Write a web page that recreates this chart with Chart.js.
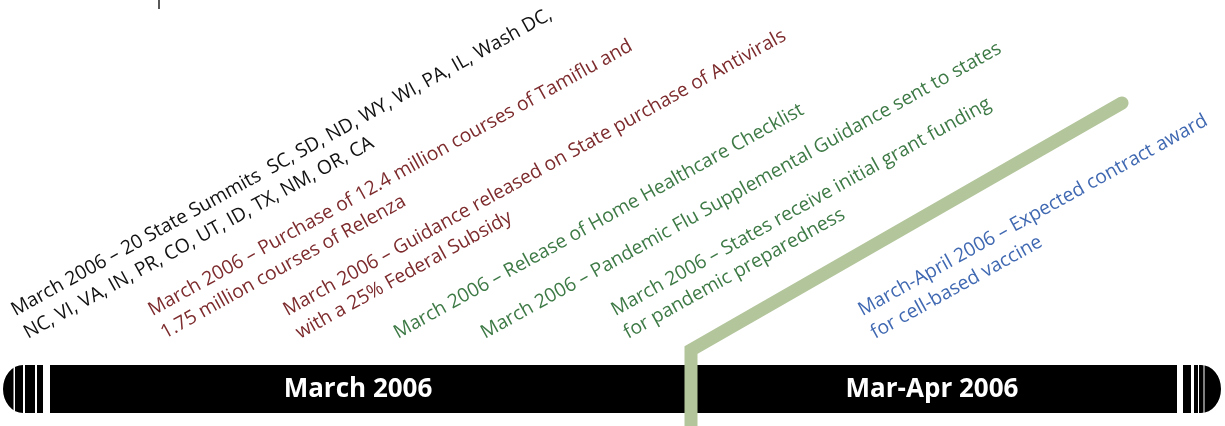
<!DOCTYPE html>
<html>
<head>
<meta charset="utf-8">
<script src="https://cdn.jsdelivr.net/npm/chart.js@4.4.0/dist/chart.umd.min.js"></script>
<style>
  html, body { margin: 0; padding: 0; background: #fff; }
  #wrap { width: 1225px; height: 426px; position: relative; }
</style>
</head>
<body>
<div id="wrap"><canvas id="timeline"></canvas></div>
<script>
// periods shown on the black band (positions along the timeline axis)
const periods = ["March 2006", "Mar-Apr 2006"];
const periodStart = [50, 691];
const periodEnd = [691, 1177];
const periodLabelAt = [358, 932];

// milestones: where each note starts on the timeline, its text and colour
const eventAt = [28, 165, 300, 398, 485, 628, 875];
const eventLines = [
  ["March 2006 – 20 State Summits  SC, SD, ND, WY, WI, PA, IL, Wash DC,",
   "NC, VI, VA, IN, PR, CO, UT, ID, TX, NM, OR, CA"],
  ["March 2006 – Purchase of 12.4 million courses of Tamiflu and",
   "1.75 million courses of Relenza"],
  ["March 2006 – Guidance released on State purchase of Antivirals",
   "with a 25% Federal Subsidy"],
  ["March 2006 – Release of Home Healthcare Checklist"],
  ["March 2006 – Pandemic Flu Supplemental Guidance sent to states"],
  ["March 2006 – States receive initial grant funding",
   "for pandemic preparedness"],
  ["March-April 2006 – Expected contract award",
   "for cell-based vaccine"]
];
const eventColour = ["#111111", "#7d2b2d", "#7d2b2d", "#3e7a46", "#3e7a46", "#3e7a46", "#4069b2"];

// green divider between the two periods, bending up to the right
const dividerX = [691, 691, 1122];
const dividerY = [-20, 76, 323];

// small tick at the top edge
const tickX = [159, 159];
const tickY = [426, 417];

const BAND_LEVEL = 37;   // y value of the band centre
const NOTE_BASE = 87;    // y value of the bottom line of each note

const decor = {
  id: "decor",
  afterDatasetsDraw(chart) {
    const ctx = chart.ctx;
    const xs = chart.scales.x, ys = chart.scales.y;
    const bars = chart.getDatasetMeta(2).data;
    const top = bars[0].y - bars[0].height / 2;
    const h = bars[0].height;
    const cy = bars[0].y;

    // end caps of the band: rounded ends cut by white stripes
    const L = xs.getPixelForValue(periodStart[0]);
    const R = xs.getPixelForValue(periodEnd[periodEnd.length - 1]);
    ctx.save();
    ctx.fillStyle = "#000";
    ctx.beginPath();
    ctx.ellipse(L - 27, cy, 20, h / 2, 0, Math.PI / 2, Math.PI * 1.5);
    ctx.rect(L - 27, top, 27, h);
    ctx.clip();
    [[-47, -36.5], [-35, -27], [-25, -15], [-13, -7]].forEach(s => ctx.fillRect(L + s[0], top, s[1] - s[0], h));
    ctx.restore();

    ctx.save();
    ctx.fillStyle = "#000";
    ctx.beginPath();
    ctx.ellipse(R + 24, cy, 20, h / 2, 0, -Math.PI / 2, Math.PI / 2);
    ctx.rect(R, top, 24, h);
    ctx.clip();
    [[6, 14], [17, 21], [22, 26.5], [27.5, 44]].forEach(s => ctx.fillRect(R + s[0], top, s[1] - s[0], h));
    ctx.restore();

    // period labels inside the band
    ctx.save();
    ctx.fillStyle = "#fff";
    ctx.font = "bold 26px 'Open Sans'";
    ctx.textAlign = "center";
    ctx.textBaseline = "middle";
    periods.forEach((p, i) => ctx.fillText(p, xs.getPixelForValue(periodLabelAt[i]), cy + 1));
    ctx.restore();

    // slanted milestone notes
    const lh = 26;
    const tilt = -29 * Math.PI / 180;
    ctx.save();
    ctx.font = "19.3px 'Open Sans'";
    ctx.textBaseline = "alphabetic";
    eventLines.forEach((lines, i) => {
      ctx.save();
      ctx.translate(xs.getPixelForValue(eventAt[i]), ys.getPixelForValue(NOTE_BASE));
      ctx.rotate(tilt);
      ctx.fillStyle = eventColour[i];
      lines.forEach((t, j) => ctx.fillText(t, 0, -(lines.length - 1 - j) * lh));
      ctx.restore();
    });
    ctx.restore();
  }
};

new Chart(document.getElementById("timeline").getContext("2d"), {
  type: "line",
  data: {
    datasets: [
      {
        label: "divider",
        data: dividerX.map((x, i) => ({ x: x, y: dividerY[i] })),
        borderColor: "#b3c59b",
        borderWidth: 13,
        borderCapStyle: "round",
        borderJoinStyle: "miter",
        pointRadius: 0,
        tension: 0,
      },
      {
        label: "tick",
        data: tickX.map((x, i) => ({ x: x, y: tickY[i] })),
        borderColor: "#222",
        borderWidth: 1.5,
        pointRadius: 0,
      },
      {
        type: "bar",
        label: "periods",
        indexAxis: "y",
        data: periods.map((p, i) => ({ x: [periodStart[i], periodEnd[i]], y: BAND_LEVEL })),
        backgroundColor: "#000",
        borderWidth: 0,
        barThickness: 48,
        inflateAmount: 0,
      },
    ],
  },
  options: {
    responsive: true,
    maintainAspectRatio: false,
    animation: false,
    events: [],
    layout: { padding: 0 },
    plugins: { legend: { display: false }, tooltip: { enabled: false } },
    scales: {
      x: { type: "linear", min: 0, max: 1225, display: false, offset: false },
      y: { type: "linear", min: 0, max: 426, display: false, offset: false },
    },
  },
  plugins: [decor],
});
</script>
</body>
</html>
